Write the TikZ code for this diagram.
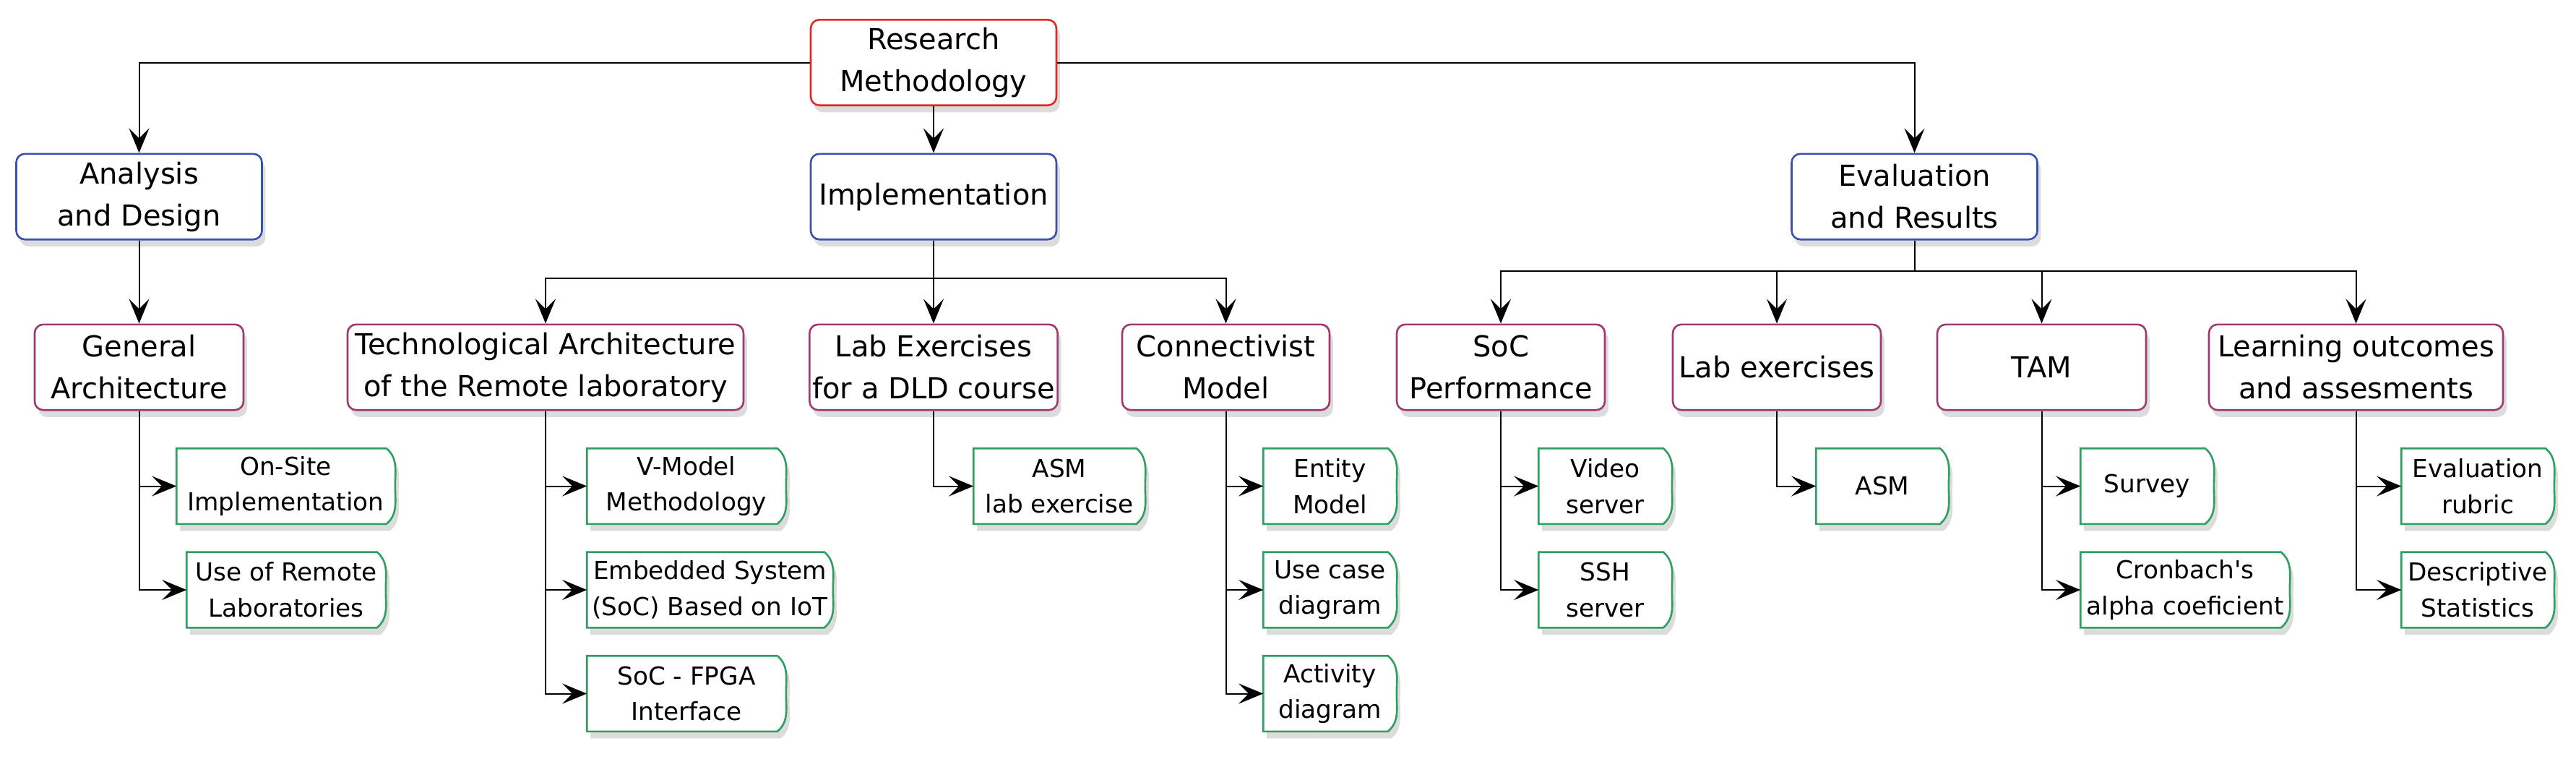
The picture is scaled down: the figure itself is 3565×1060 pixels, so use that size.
\documentclass[tikz,border=0pt]{standalone}
\usepackage{fontspec}
\setmainfont{DejaVu Sans}
\usepackage{xcolor}
\usepackage{tikz}
\usetikzlibrary{arrows.meta, shadows}

\definecolor{rootred}{HTML}{E8252A}
\definecolor{stageblue}{HTML}{3A4FB0}
\definecolor{topicpurple}{HTML}{A03A6E}
\definecolor{leafgreen}{HTML}{2E9E63}

\pgfdeclarelayer{background}
\pgfsetlayers{background,main}

\tikzset{
	softshadow/.style={drop shadow={shadow xshift=1.2pt, shadow yshift=-2.4pt, opacity=0.28}},
	box/.style={rounded corners=3pt, line width=0.65pt, fill=white, align=center, inner sep=1pt,
		minimum height=29.6pt, font=\fontsize{10}{14.5}\selectfont, softshadow},
	rootbox/.style={box, draw=rootred},
	stagebox/.style={box, draw=stageblue},
	topicbox/.style={box, draw=topicpurple},
	leafbox/.style={draw=none, align=center, inner sep=1pt, minimum height=25.75pt,
		font=\fontsize{8.57}{12.4}\selectfont,
		append after command={\pgfextra{
			\begin{pgfonlayer}{background}
			\draw [leafgreen, line width=0.65pt, fill=white, softshadow]
				(\tikzlastnode.north west) -- ([xshift=-3pt]\tikzlastnode.north east)
				to [out=-40, in=90] (\tikzlastnode.east)
				to [out=-90, in=40] ([xshift=-3pt]\tikzlastnode.south east)
				-- (\tikzlastnode.south west) -- cycle;
			\end{pgfonlayer}}}},
	link/.style={line width=0.5pt, -{Stealth[length=8.5pt, width=7pt, inset=3.5pt]}}
}

\begin{document}
\begin{tikzpicture}[x=0.25pt, y=-0.25pt]
	\useasboundingbox (0,0) rectangle (3565,1060);

	\node [rootbox, minimum width=85pt] (root) at (1292,86.5) {Research\\Methodology};

	\node [stagebox, minimum width=85pt] (analysis) at (192.5,272) {Analysis\\and Design};
	\node [stagebox, minimum width=85pt] (impl) at (1292,272) {Implementation};
	\node [stagebox, minimum width=85pt] (eval) at (2649.5,272) {Evaluation\\and Results};

	\node [topicbox, minimum width=72.25pt] (general) at (192.5,508) {General\\Architecture};
	\node [topicbox, minimum width=137pt] (tech) at (755,508) {Technological Architecture\\of the Remote laboratory};
	\node [topicbox, minimum width=85pt] (labdld) at (1292,508) {Lab Exercises\\for a DLD course};
	\node [topicbox, minimum width=71.75pt] (conn) at (1696.5,508) {Connectivist\\Model};
	\node [topicbox, minimum width=72pt] (socperf) at (2077,508) {SoC\\Performance};
	\node [topicbox, minimum width=72pt] (labex) at (2459,508) {Lab exercises};
	\node [topicbox, minimum width=72.25pt] (tam) at (2825.5,508) {TAM};
	\node [topicbox, minimum width=101.75pt] (learning) at (3260.5,508) {Learning outcomes\\and assesments};

	\node [leafbox, minimum width=75.25pt] (onsite) at (395.5,672.5) {On-Site\\Implementation};
	\node [leafbox, minimum width=68.5pt] (remote) at (396,816) {Use of Remote\\Laboratories};
	\node [leafbox, minimum width=68.5pt] (vmodel) at (950,672.5) {V-Model\\Methodology};
	\node [leafbox, minimum width=84.75pt] (embedded) at (982.5,816) {Embedded System\\(SoC) Based on IoT};
	\node [leafbox, minimum width=68.5pt] (fpga) at (950,959.5) {SoC - FPGA\\Interface};
	\node [leafbox, minimum width=59pt] (asmlab) at (1466,672.5) {ASM\\lab exercise};
	\node [leafbox, minimum width=45.75pt] (entity) at (1840.5,672.5) {Entity\\Model};
	\node [leafbox, minimum width=45.75pt] (usecase) at (1840.5,816) {Use case\\diagram};
	\node [leafbox, minimum width=45.75pt] (activity) at (1840.5,959.5) {Activity\\diagram};
	\node [leafbox, minimum width=45.75pt] (video) at (2221.5,672.5) {Video\\server};
	\node [leafbox, minimum width=45.75pt] (ssh) at (2221.5,816) {SSH\\server};
	\node [leafbox, minimum width=45.5pt] (asm) at (2605,672.5) {ASM};
	\node [leafbox, minimum width=45.75pt] (survey) at (2971.5,672.5) {Survey};
	\node [leafbox, minimum width=72pt] (cronbach) at (3024,816) {Cronbach\textquotesingle s\\alpha coeficient};
	\node [leafbox, minimum width=52.5pt] (rubric) at (3429,672.5) {Evaluation\\rubric};
	\node [leafbox, minimum width=52.5pt] (stats) at (3429,816) {Descriptive\\Statistics};

	\draw [link] (root.west) -| (analysis.north);
	\draw [link] (root.south) -- (impl.north);
	\draw [link] (root.east) -| (eval.north);
	\draw [link] (analysis.south) -- (general.north);

	\foreach \t in {tech, labdld, conn}
	{
		\draw [link] (impl.south) -- ++(0,52.5) -| (\t.north);
	}
	\foreach \t in {socperf, labex, tam, learning}
	{
		\draw [link] (eval.south) -- ++(0,42) -| (\t.north);
	}

	\foreach \p/\c in {general/onsite, general/remote, tech/vmodel, tech/embedded, tech/fpga,
		labdld/asmlab, conn/entity, conn/usecase, conn/activity, socperf/video, socperf/ssh,
		labex/asm, tam/survey, tam/cronbach, learning/rubric, learning/stats}
	{
		\draw [link] (\p.south) |- (\c.west);
	}
\end{tikzpicture}
\end{document}
